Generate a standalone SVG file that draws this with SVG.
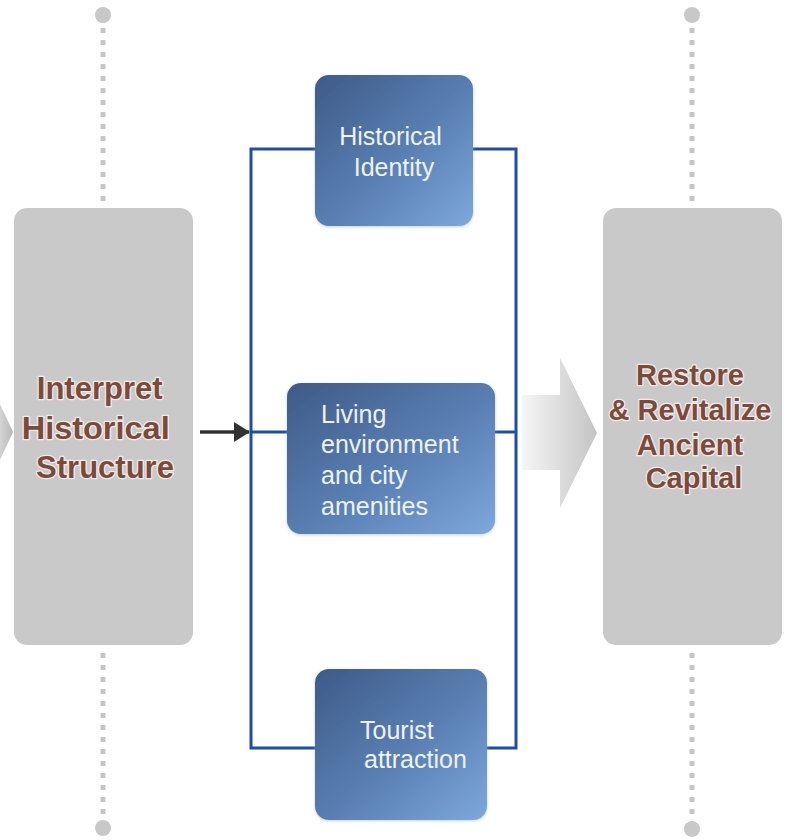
<svg xmlns="http://www.w3.org/2000/svg" width="793" height="840" viewBox="0 0 793 840">
  <defs>
    <linearGradient id="blueFill" x1="0" y1="0" x2="1" y2="1">
      <stop offset="0" stop-color="#3e5a87"/>
      <stop offset="0.55" stop-color="#5a80b4"/>
      <stop offset="1" stop-color="#7ea8dc"/>
    </linearGradient>
    <linearGradient id="bigArrowFill" x1="0" y1="0" x2="1" y2="0">
      <stop offset="0" stop-color="#f6f6f6"/>
      <stop offset="1" stop-color="#c4c4c4"/>
    </linearGradient>
    <linearGradient id="edgeArrowFill" x1="0" y1="0" x2="1" y2="0">
      <stop offset="0" stop-color="#d4d4d4"/>
      <stop offset="1" stop-color="#b8b8b8"/>
    </linearGradient>
    <filter id="soft" x="-10%" y="-10%" width="120%" height="120%">
      <feDropShadow dx="0" dy="1" stdDeviation="1.5" flood-color="#9fb3cc" flood-opacity="0.6"/>
    </filter>
    <marker id="arrowHead" markerWidth="16" markerHeight="20" refX="15" refY="10" orient="auto" markerUnits="userSpaceOnUse">
      <path d="M0,0 L16,10 L0,20 Z" fill="#333333"/>
    </marker>
    <style>
      .grayBox { fill: #c9c9c9; }
      .blueBox { fill: url(#blueFill); filter: url(#soft); }
      .dots { stroke: #c6c6c6; stroke-width: 5; stroke-dasharray: 5 7; fill: none; }
      .pin { fill: #c8c8c8; }
      .bracket { stroke: #1d4ea6; stroke-width: 3; fill: none; stroke-linejoin: miter; }
      .mainText { font-family: "Liberation Sans", Arial, sans-serif; font-weight: bold; fill: #7a4a3b;
                  stroke: #f3ecea; stroke-width: 2.5; paint-order: stroke; stroke-linejoin: round; text-anchor: middle; }
      .boxText { font-family: "Liberation Sans", Arial, sans-serif; font-size: 25px; fill: #eef2fa; }
    </style>
  </defs>

  <!-- timeline guides -->
  <g id="guides">
    <circle class="pin" cx="103" cy="15" r="8"/>
    <line class="dots" x1="103" y1="28" x2="103" y2="202"/>
    <line class="dots" x1="103" y1="653" x2="103" y2="816"/>
    <circle class="pin" cx="103" cy="828" r="8"/>
    <circle class="pin" cx="692" cy="15" r="8"/>
    <line class="dots" x1="692" y1="28" x2="692" y2="202"/>
    <line class="dots" x1="692" y1="653" x2="692" y2="816"/>
    <circle class="pin" cx="692" cy="829" r="8"/>
  </g>

  <!-- incoming chevron at the left edge -->
  <polygon points="0,404 13,432 0,460" fill="url(#edgeArrowFill)"/>

  <!-- connectors -->
  <g id="connectors">
    <path class="bracket" d="M315,149 H251 V748 H315"/>
    <path class="bracket" d="M473,149 H516 V748 H487"/>
    <line class="bracket" x1="251" y1="432" x2="287" y2="432"/>
    <line class="bracket" x1="495" y1="432" x2="516" y2="432"/>
    <line x1="200" y1="432" x2="249" y2="432" stroke="#333333" stroke-width="3.5" marker-end="url(#arrowHead)"/>
    <polygon points="522,395 560,395 560,358 597,433 560,508 560,470 522,470" fill="url(#bigArrowFill)"/>
  </g>

  <g id="interpret">
    <rect class="grayBox" x="14" y="208" width="179" height="437" rx="13"/>
    <text class="mainText" font-size="31">
      <tspan x="104" y="399">Interpret</tspan>
      <tspan x="100" y="439" textLength="148" lengthAdjust="spacingAndGlyphs">Historical</tspan>
      <tspan x="105" y="478">Structure</tspan>
    </text>
  </g>

  <g id="restore">
    <rect class="grayBox" x="603" y="208" width="179" height="437" rx="13"/>
    <text class="mainText" font-size="29">
      <tspan x="694" y="385">Restore</tspan>
      <tspan x="694" y="420">&amp; Revitalize</tspan>
      <tspan x="694" y="455">Ancient</tspan>
      <tspan x="694" y="488">Capital</tspan>
    </text>
  </g>

  <g id="historical-identity">
    <rect class="blueBox" x="315" y="75" width="158" height="151" rx="14"/>
    <text class="boxText" text-anchor="middle">
      <tspan x="394" y="145">Historical</tspan>
      <tspan x="394" y="176">Identity</tspan>
    </text>
  </g>

  <g id="living-environment">
    <rect class="blueBox" x="287" y="383" width="208" height="151" rx="14"/>
    <text class="boxText">
      <tspan x="321" y="423">Living</tspan>
      <tspan x="321" y="453">environment</tspan>
      <tspan x="321" y="484">and city</tspan>
      <tspan x="321" y="515">amenities</tspan>
    </text>
  </g>

  <g id="tourist-attraction">
    <rect class="blueBox" x="315" y="669" width="172" height="151" rx="14"/>
    <text class="boxText">
      <tspan x="360" y="739">Tourist</tspan>
      <tspan x="364" y="768">attraction</tspan>
    </text>
  </g>
</svg>
